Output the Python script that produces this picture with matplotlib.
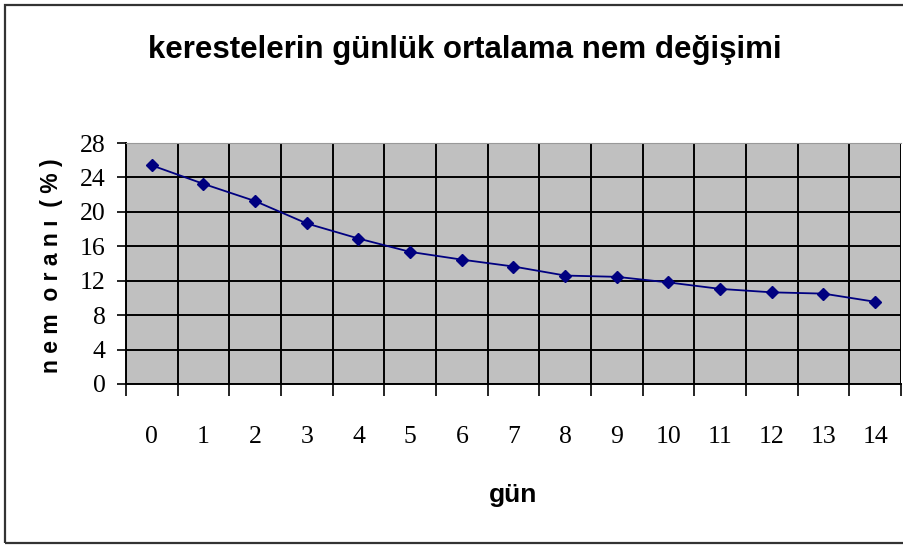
import numpy as np
import matplotlib
matplotlib.use('Agg')
import matplotlib.pyplot as plt
from matplotlib.patches import Rectangle


# Daily mean moisture of timber
days = list(range(15))
moisture = [25.4, 23.25, 21.25, 18.65, 16.9, 15.35, 14.45, 13.65,
            12.6, 12.45, 11.8, 11.05, 10.65, 10.5, 9.55]
yticks = [0, 4, 8, 12, 16, 20, 24, 28]

title = 'kerestelerin günlük ortalama nem değişimi'
ylabel = 'n e m  o r a n ı  ( % )'
xlabel = 'gün'

sans = ['Liberation Sans', 'DejaVu Sans']
serif = ['Liberation Serif', 'DejaVu Serif']


fig = plt.figure(figsize=(9.04, 5.48), dpi=100)
ax = fig.add_axes([126/904, 1 - 384/548, 775/904, 241/548])

# Outer chart border
fig.patches.append(Rectangle((5/904, 5/548), 1.2, 538/548, transform=fig.transFigure,
                             fill=False, edgecolor='#333333', linewidth=1.6))

ax.set_facecolor('#c0c0c0')
ax.plot(days, moisture, '-', color='#000080', linewidth=1.3,
        marker='D', markersize=6.5, markerfacecolor='#000080',
        markeredgecolor='#000080', zorder=3)

ax.set_xlim(-0.5, 14.5)
ax.set_ylim(0, 28)

# Category axis: labels at centres, ticks and grid at boundaries
ax.set_xticks(days)
ax.set_xticks(np.arange(-0.5, 15, 1.0), minor=True)
ax.set_yticks(yticks)
ax.grid(True, which='minor', axis='x', color='black', linewidth=1.4)
ax.grid(True, which='major', axis='y', color='black', linewidth=1.4)
ax.set_axisbelow(True)

ax.tick_params(axis='x', which='major', length=0, pad=30)
ax.tick_params(axis='x', which='minor', length=8.5, width=1.2,
               direction='out', color='black')
ax.tick_params(axis='y', which='major', length=6.5, width=1.2,
               direction='out', pad=8)

for lbl in ax.get_xticklabels() + ax.get_yticklabels():
    lbl.set_family(serif)
    lbl.set_fontsize(18.5)

for s in ['left', 'bottom']:
    ax.spines[s].set_color('black')
    ax.spines[s].set_linewidth(1.4)
ax.spines['top'].set_color('#999999')
ax.spines['right'].set_visible(False)

fig.text(465/904, 1 - 50/548, title, ha='center', va='center',
         fontsize=22.5, fontweight='bold', family=sans)
fig.text(52/904, 1 - 266/548, ylabel, ha='center', va='center',
         rotation=90, fontsize=16.5, fontweight='bold', family=sans)
fig.text(513/904, 1 - 495/548, xlabel, ha='center', va='center',
         fontsize=19, fontweight='bold', family=sans)

plt.savefig('out.png', dpi=100)
